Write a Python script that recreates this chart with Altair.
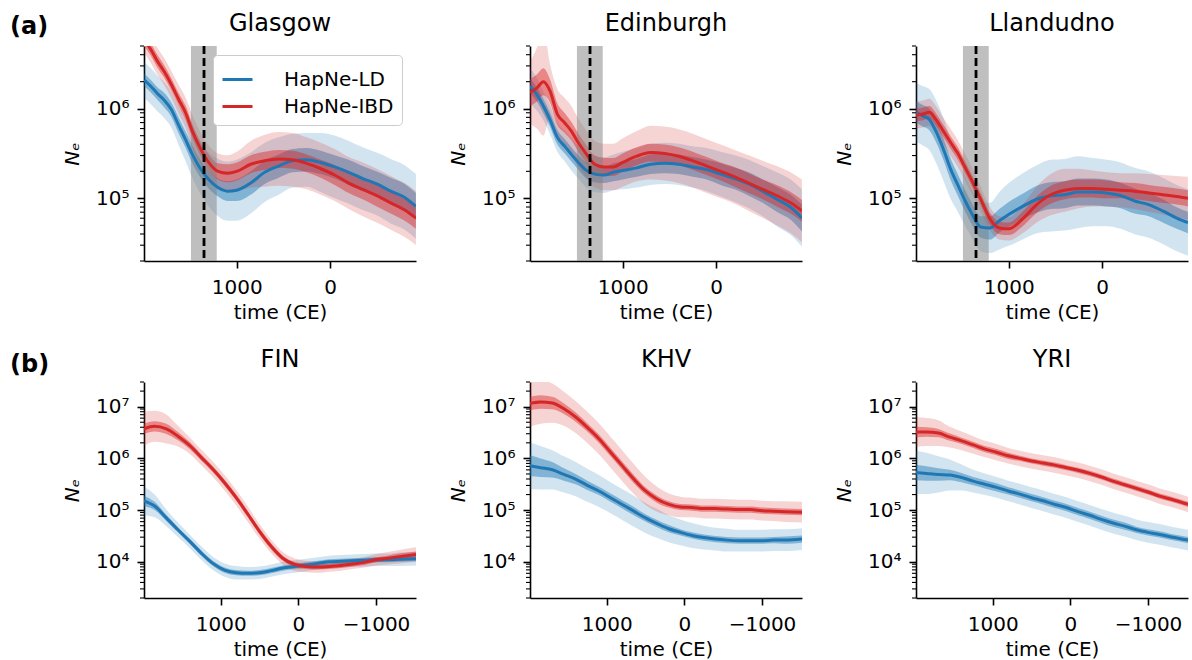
import altair as alt
import pandas as pd

FONT = "DejaVu Sans"
BLUE = "#1f77b4"
RED = "#d62728"
METHODS = ["HapNe-LD", "HapNe-IBD"]
COLORS = {"HapNe-LD": BLUE, "HapNe-IBD": RED}

# ---------------- time grids (CE) ----------------
T_TOP = [1990, 1920, 1850, 1780, 1700, 1620, 1550, 1475, 1400, 1300, 1200, 1100, 1000,
         850, 700, 550, 400, 250, 100, -50, -200, -350, -500, -650, -800, -920]
T_BOT = [1990, 1850, 1700, 1550, 1400, 1250, 1100, 950, 800, 650, 500, 350, 200, 50,
         -100, -250, -400, -550, -700, -850, -1000, -1150, -1300, -1515]

# ---------------- (a) UK cities: log10 Ne, inner / outer half widths ----------------
GLA_LD = [6.32, 6.25, 6.17, 6.10, 5.99, 5.81, 5.66, 5.49, 5.35, 5.21, 5.12, 5.08, 5.09,
          5.17, 5.29, 5.36, 5.42, 5.43, 5.40, 5.35, 5.29, 5.22, 5.16, 5.08, 5.01, 4.91]
GLA_LD_IN = [0.07, 0.07, 0.07, 0.08, 0.08, 0.09, 0.09, 0.10, 0.10, 0.10, 0.10, 0.11, 0.12,
             0.13, 0.13, 0.13, 0.13, 0.13, 0.13, 0.13, 0.14, 0.14, 0.14, 0.15, 0.15, 0.15]
GLA_LD_OUT = [0.20, 0.20, 0.20, 0.20, 0.20, 0.22, 0.24, 0.26, 0.28, 0.30, 0.32, 0.33, 0.34,
              0.34, 0.33, 0.32, 0.30, 0.30, 0.33, 0.35, 0.35, 0.35, 0.35, 0.36, 0.36, 0.36]
GLA_IBD = [6.77, 6.66, 6.53, 6.42, 6.27, 6.10, 5.96, 5.75, 5.58, 5.40, 5.30, 5.28, 5.30,
           5.38, 5.42, 5.44, 5.43, 5.39, 5.33, 5.26, 5.17, 5.10, 5.03, 4.95, 4.87, 4.78]
GLA_IBD_IN = [0.07, 0.07, 0.07, 0.07, 0.07, 0.07, 0.08, 0.08, 0.08, 0.09, 0.09, 0.10, 0.10,
              0.10, 0.10, 0.10, 0.10, 0.10, 0.10, 0.11, 0.11, 0.11, 0.12, 0.12, 0.12, 0.12]
GLA_IBD_OUT = [0.15, 0.15, 0.15, 0.15, 0.15, 0.16, 0.17, 0.18, 0.18, 0.19, 0.20, 0.20, 0.22,
               0.26, 0.29, 0.30, 0.30, 0.29, 0.29, 0.29, 0.29, 0.30, 0.30, 0.30, 0.30, 0.30]

EDI_LD = [6.25, 6.16, 6.03, 5.88, 5.68, 5.58, 5.49, 5.40, 5.32, 5.27, 5.26, 5.29, 5.31,
          5.34, 5.38, 5.39, 5.38, 5.35, 5.32, 5.27, 5.22, 5.16, 5.08, 4.99, 4.90, 4.78]
EDI_LD_IN = [0.08, 0.08, 0.08, 0.08, 0.08, 0.08, 0.08, 0.08, 0.09, 0.09, 0.09, 0.10, 0.10,
             0.10, 0.11, 0.11, 0.11, 0.11, 0.11, 0.12, 0.12, 0.13, 0.13, 0.14, 0.14, 0.15]
EDI_LD_OUT = [0.20, 0.18, 0.16, 0.16, 0.16, 0.17, 0.18, 0.18, 0.19, 0.20, 0.20, 0.20, 0.21,
              0.22, 0.23, 0.23, 0.23, 0.23, 0.24, 0.25, 0.26, 0.27, 0.28, 0.30, 0.31, 0.32]
EDI_IBD = [6.18, 6.23, 6.30, 6.20, 5.94, 5.84, 5.75, 5.62, 5.51, 5.38, 5.35, 5.35, 5.40,
           5.47, 5.51, 5.50, 5.47, 5.42, 5.36, 5.30, 5.24, 5.17, 5.10, 5.03, 4.95, 4.86]
EDI_IBD_IN = [0.15, 0.15, 0.15, 0.13, 0.12, 0.11, 0.10, 0.10, 0.10, 0.10, 0.10, 0.10, 0.10,
              0.10, 0.10, 0.10, 0.10, 0.10, 0.10, 0.10, 0.11, 0.11, 0.11, 0.12, 0.12, 0.12]
EDI_IBD_OUT = [0.35, 0.45, 0.60, 0.30, 0.28, 0.28, 0.28, 0.27, 0.26, 0.26, 0.26, 0.26, 0.27,
               0.28, 0.30, 0.30, 0.30, 0.30, 0.30, 0.30, 0.30, 0.31, 0.32, 0.33, 0.34, 0.35]

LLA_LD = [5.96, 5.92, 5.88, 5.75, 5.55, 5.32, 5.16, 4.99, 4.84, 4.68, 4.67, 4.75, 4.82,
          4.91, 4.99, 5.03, 5.04, 5.07, 5.07, 5.06, 5.03, 4.97, 4.93, 4.86, 4.78, 4.73]
LLA_LD_IN = [0.12, 0.12, 0.12, 0.12, 0.12, 0.12, 0.12, 0.12, 0.12, 0.12, 0.13, 0.13, 0.14,
             0.14, 0.15, 0.15, 0.15, 0.15, 0.15, 0.15, 0.14, 0.14, 0.13, 0.13, 0.12, 0.12]
LLA_LD_OUT = [0.33, 0.33, 0.34, 0.35, 0.35, 0.33, 0.30, 0.28, 0.27, 0.27, 0.28, 0.32, 0.35,
              0.37, 0.38, 0.40, 0.40, 0.40, 0.38, 0.37, 0.37, 0.37, 0.37, 0.37, 0.37, 0.37]
LLA_IBD = [5.93, 5.94, 5.96, 5.88, 5.75, 5.62, 5.51, 5.36, 5.21, 4.99, 4.77, 4.67, 4.66,
           4.77, 4.93, 5.04, 5.09, 5.11, 5.11, 5.10, 5.09, 5.08, 5.06, 5.04, 5.02, 5.00]
LLA_IBD_IN = [0.07, 0.07, 0.07, 0.07, 0.07, 0.07, 0.07, 0.07, 0.07, 0.07, 0.07, 0.07, 0.07,
              0.08, 0.09, 0.10, 0.10, 0.10, 0.10, 0.10, 0.09, 0.09, 0.09, 0.09, 0.09, 0.09]
LLA_IBD_OUT = [0.15, 0.15, 0.15, 0.15, 0.15, 0.15, 0.15, 0.15, 0.15, 0.14, 0.13, 0.13, 0.13,
               0.16, 0.20, 0.23, 0.24, 0.22, 0.20, 0.19, 0.19, 0.20, 0.21, 0.22, 0.23, 0.24]

# ---------------- (b) 1000 Genomes populations ----------------
FIN_LD = [5.18, 5.08, 4.85, 4.62, 4.40, 4.17, 3.97, 3.84, 3.79, 3.78, 3.79, 3.83, 3.88, 3.91,
          3.94, 3.97, 4.00, 4.01, 4.02, 4.03, 4.04, 4.04, 4.05, 4.06]
FIN_LD_IN = [0.10, 0.08, 0.06, 0.05, 0.05, 0.05, 0.05, 0.05, 0.05, 0.05, 0.05, 0.05, 0.05, 0.05,
             0.05, 0.05, 0.05, 0.05, 0.05, 0.05, 0.05, 0.05, 0.05, 0.05]
FIN_LD_OUT = [0.28, 0.22, 0.16, 0.14, 0.13, 0.13, 0.13, 0.13, 0.13, 0.12, 0.12, 0.12, 0.12, 0.12,
              0.12, 0.12, 0.12, 0.12, 0.12, 0.12, 0.12, 0.12, 0.13, 0.13]
FIN_IBD = [6.57, 6.62, 6.57, 6.43, 6.25, 6.02, 5.79, 5.53, 5.24, 4.92, 4.59, 4.30, 4.07, 3.95,
           3.91, 3.90, 3.91, 3.93, 3.96, 3.99, 4.04, 4.07, 4.10, 4.14]
FIN_IBD_IN = [0.10, 0.10, 0.10, 0.08, 0.07, 0.06, 0.06, 0.06, 0.06, 0.06, 0.06, 0.06, 0.05, 0.05,
              0.05, 0.05, 0.05, 0.05, 0.05, 0.05, 0.05, 0.05, 0.06, 0.06]
FIN_IBD_OUT = [0.33, 0.30, 0.28, 0.20, 0.16, 0.15, 0.15, 0.15, 0.15, 0.15, 0.14, 0.13, 0.12, 0.12,
               0.11, 0.11, 0.10, 0.10, 0.10, 0.10, 0.11, 0.12, 0.13, 0.14]

KHV_LD = [5.86, 5.82, 5.78, 5.69, 5.60, 5.48, 5.37, 5.24, 5.11, 4.98, 4.85, 4.74, 4.64, 4.57,
          4.51, 4.47, 4.44, 4.42, 4.41, 4.41, 4.41, 4.42, 4.42, 4.44]
KHV_LD_IN = [0.20, 0.18, 0.15, 0.12, 0.10, 0.09, 0.08, 0.08, 0.08, 0.08, 0.07, 0.07, 0.07, 0.06,
             0.06, 0.06, 0.06, 0.06, 0.06, 0.06, 0.06, 0.06, 0.07, 0.07]
KHV_LD_OUT = [0.45, 0.42, 0.38, 0.35, 0.33, 0.32, 0.31, 0.30, 0.30, 0.30, 0.29, 0.28, 0.26, 0.25,
              0.24, 0.23, 0.22, 0.22, 0.21, 0.21, 0.21, 0.21, 0.21, 0.21]
KHV_IBD = [7.06, 7.09, 7.07, 6.96, 6.80, 6.60, 6.38, 6.12, 5.86, 5.60, 5.37, 5.21, 5.11, 5.06,
           5.05, 5.03, 5.03, 5.02, 5.01, 5.01, 4.99, 4.98, 4.97, 4.96]
KHV_IBD_IN = [0.13, 0.13, 0.12, 0.10, 0.09, 0.08, 0.08, 0.08, 0.08, 0.08, 0.07, 0.07, 0.06, 0.06,
              0.06, 0.06, 0.06, 0.06, 0.06, 0.06, 0.06, 0.06, 0.06, 0.06]
KHV_IBD_OUT = [0.45, 0.42, 0.38, 0.33, 0.31, 0.30, 0.30, 0.30, 0.30, 0.29, 0.27, 0.24, 0.21, 0.20,
               0.19, 0.19, 0.19, 0.19, 0.19, 0.19, 0.19, 0.19, 0.20, 0.20]

YRI_LD = [5.73, 5.71, 5.69, 5.68, 5.63, 5.56, 5.50, 5.44, 5.37, 5.31, 5.24, 5.18, 5.11, 5.05,
          4.97, 4.90, 4.82, 4.75, 4.69, 4.62, 4.57, 4.53, 4.48, 4.42]
YRI_LD_IN = [0.15, 0.14, 0.12, 0.10, 0.09, 0.08, 0.08, 0.08, 0.07, 0.07, 0.07, 0.07, 0.07, 0.07,
             0.07, 0.07, 0.07, 0.07, 0.07, 0.06, 0.06, 0.06, 0.06, 0.06]
YRI_LD_OUT = [0.42, 0.40, 0.35, 0.30, 0.25, 0.22, 0.21, 0.20, 0.20, 0.20, 0.20, 0.20, 0.20, 0.20,
              0.20, 0.20, 0.20, 0.20, 0.20, 0.20, 0.20, 0.20, 0.20, 0.20]
YRI_IBD = [6.51, 6.51, 6.49, 6.41, 6.34, 6.26, 6.18, 6.12, 6.05, 6.00, 5.95, 5.91, 5.87, 5.82,
           5.77, 5.71, 5.64, 5.56, 5.49, 5.42, 5.35, 5.27, 5.21, 5.11]
YRI_IBD_IN = [0.10, 0.09, 0.08, 0.07, 0.06, 0.06, 0.06, 0.06, 0.06, 0.05, 0.05, 0.05, 0.05, 0.05,
              0.05, 0.05, 0.05, 0.05, 0.05, 0.05, 0.05, 0.05, 0.05, 0.05]
YRI_IBD_OUT = [0.29, 0.27, 0.25, 0.20, 0.18, 0.17, 0.16, 0.16, 0.15, 0.15, 0.15, 0.15, 0.15, 0.15,
               0.15, 0.15, 0.15, 0.15, 0.15, 0.15, 0.15, 0.15, 0.15, 0.15]

# Black-Death window and marker
EVENT_BAND = [1214, 1490]
EVENT_LINE = [1350]

X_DOM_TOP = [-921, 1993]
X_DOM_BOT = [-1515, 1987]
X_TICKS_TOP = [1000, 0]
X_TICKS_BOT = [1000, 0, -1000]
Y_DOM_TOP = [2e4, 5e6]
Y_DOM_BOT = [2e3, 3e7]
Y_MAJOR_TOP = [1e5, 1e6]
Y_MAJOR_BOT = [1e4, 1e5, 1e6, 1e7]


def minor_ticks(lo, hi):
    return [m * 10 ** e for e in range(3, 8) for m in range(2, 10) if lo <= m * 10 ** e <= hi]


def panel_df(times, series):
    rows = []
    for method, (mid, win, wout) in zip(METHODS, series):
        for t, m, a, b in zip(times, mid, win, wout):
            rows.append(dict(method=method, t=t, mid=10 ** m,
                             lo1=10 ** (m - a), hi1=10 ** (m + a),
                             lo2=10 ** (m - b), hi2=10 ** (m + b)))
    return pd.DataFrame(rows)


E = "round(log(datum.value)/LN10)"
SUP = (f"({E} == 3 ? '³' : {E} == 4 ? '⁴' : {E} == 5 ? '⁵' : "
       f"{E} == 6 ? '⁶' : {E} == 7 ? '⁷' : '')")
Y_LABEL = f"'10' + {SUP}"
X_LABEL = "datum.value < 0 ? '−' + abs(datum.value) : '' + datum.value"

color_scale = alt.Scale(domain=METHODS, range=[BLUE, RED])


def make_panel(df, title, top, first, label):
    xdom = X_DOM_TOP if top else X_DOM_BOT
    xticks = X_TICKS_TOP if top else X_TICKS_BOT
    ydom = Y_DOM_TOP if top else Y_DOM_BOT
    ymaj = Y_MAJOR_TOP if top else Y_MAJOR_BOT
    height = 215 if top else 216

    xs = alt.Scale(domain=xdom, reverse=True, nice=False, zero=False)
    ys = alt.Scale(type="log", domain=ydom, nice=False)
    xaxis = alt.Axis(values=xticks, title="time (CE)", labelExpr=X_LABEL, grid=False,
                     tickSize=7, tickWidth=1.6, domainWidth=1.6, labelPadding=9,
                     titlePadding=5, labelFlush=False, labelOverlap=False,
                     labelFontSize=20, titleFontSize=20)
    yaxis = alt.Axis(values=ymaj, title="Nₑ", labelExpr=Y_LABEL, grid=False,
                     tickSize=7, tickWidth=1.6, domainWidth=1.6, labelPadding=8,
                     titlePadding=13, titleFontStyle="italic", labelFlush=False,
                     labelOverlap=False, labelFontSize=20, titleFontSize=20)

    X = alt.X("t:Q", scale=xs, axis=xaxis)
    base = alt.Chart(df)

    band_layers = []
    for method in METHODS:
        sub = base.transform_filter(alt.datum.method == method)
        band_layers.append(sub.mark_area(opacity=0.2, clip=True, interpolate="monotone",
                                         color=COLORS[method]).encode(
            x=X, y=alt.Y("lo2:Q", scale=ys, axis=yaxis), y2="hi2:Q"))
        band_layers.append(sub.mark_area(opacity=0.45, clip=True, interpolate="monotone",
                                         color=COLORS[method]).encode(
            x=X, y=alt.Y("lo1:Q", scale=ys, axis=yaxis), y2="hi1:Q"))

    if first:
        legend = alt.Legend(orient="none", legendX=69, legendY=9, title=None,
                            symbolType="stroke", symbolSize=900, symbolStrokeWidth=3,
                            labelFont=FONT, labelFontSize=20, labelColor="black",
                            padding=8, strokeColor="#cccccc", fillColor="white",
                            cornerRadius=4, rowPadding=0, labelOffset=30)
        color = alt.Color("method:N", scale=color_scale, legend=legend, sort=METHODS)
    else:
        color = alt.Color("method:N", scale=color_scale, legend=None)

    line = base.mark_line(strokeWidth=3, clip=True, interpolate="monotone").encode(
        x=X, y=alt.Y("mid:Q", scale=ys, axis=yaxis), color=color)

    minor = alt.Chart(pd.DataFrame({"v": minor_ticks(*ydom)})).mark_rule(
        color="black", strokeWidth=1.1).encode(
        y=alt.Y("v:Q", scale=ys, axis=yaxis), x=alt.value(-4), x2=alt.value(0))

    layers = band_layers
    if top:
        band = alt.Chart(pd.DataFrame({"start": [EVENT_BAND[1]], "end": [EVENT_BAND[0]]})).mark_rect(
            color="#808080", opacity=0.5).encode(
            x=alt.X("start:Q", scale=xs, axis=xaxis), x2="end:Q")
        layers.append(band)
    layers.append(line)
    if top:
        rule = alt.Chart(pd.DataFrame({"event": EVENT_LINE})).mark_rule(
            color="black", strokeDash=[8, 4], strokeWidth=2.8).encode(
            x=alt.X("event:Q", scale=xs, axis=xaxis))
        layers.append(rule)
    layers.append(minor)
    tparams = dict(fontSize=24, font=FONT, fontWeight="normal", offset=9,
                   anchor="middle", color="black", frame="group")
    if label:
        txt = alt.Chart(pd.DataFrame({"label": [label]})).mark_text(
            font=FONT, fontSize=24, fontWeight="bold", align="left", baseline="middle",
            color="black").encode(
            x=alt.value(-134), y=alt.value(-19 if top else -17), text="label:N")
        layers.append(txt)
        tparams["dy"] = 30 if top else 28

    return alt.layer(*layers).properties(
        width=272, height=height, title=alt.TitleParams(title, **tparams))


panels = [
    make_panel(panel_df(T_TOP, [(GLA_LD, GLA_LD_IN, GLA_LD_OUT), (GLA_IBD, GLA_IBD_IN, GLA_IBD_OUT)]),
               "Glasgow", True, True, "(a)"),
    make_panel(panel_df(T_TOP, [(EDI_LD, EDI_LD_IN, EDI_LD_OUT), (EDI_IBD, EDI_IBD_IN, EDI_IBD_OUT)]),
               "Edinburgh", True, False, None),
    make_panel(panel_df(T_TOP, [(LLA_LD, LLA_LD_IN, LLA_LD_OUT), (LLA_IBD, LLA_IBD_IN, LLA_IBD_OUT)]),
               "Llandudno", True, False, None),
    make_panel(panel_df(T_BOT, [(FIN_LD, FIN_LD_IN, FIN_LD_OUT), (FIN_IBD, FIN_IBD_IN, FIN_IBD_OUT)]),
               "FIN", False, False, "(b)"),
    make_panel(panel_df(T_BOT, [(KHV_LD, KHV_LD_IN, KHV_LD_OUT), (KHV_IBD, KHV_IBD_IN, KHV_IBD_OUT)]),
               "KHV", False, False, None),
    make_panel(panel_df(T_BOT, [(YRI_LD, YRI_LD_IN, YRI_LD_OUT), (YRI_IBD, YRI_IBD_IN, YRI_IBD_OUT)]),
               "YRI", False, False, None),
]

chart = alt.concat(*panels, columns=3, spacing={"row": 121, "column": 114}, bounds="flush").resolve_scale(
    x="independent", y="independent", color="independent"
).resolve_legend(color="independent").properties(
    padding={"left": 10, "top": 11, "right": 4, "bottom": 4},
    background="white",
).configure_view(stroke=None).configure_axis(
    labelFont=FONT, titleFont=FONT, labelFontSize=20, titleFontSize=20,
    labelColor="black", titleColor="black", tickColor="black", domainColor="black",
    titleFontWeight="normal",
)

chart.save("out.html", embed_options={"renderer": "svg", "actions": False})
